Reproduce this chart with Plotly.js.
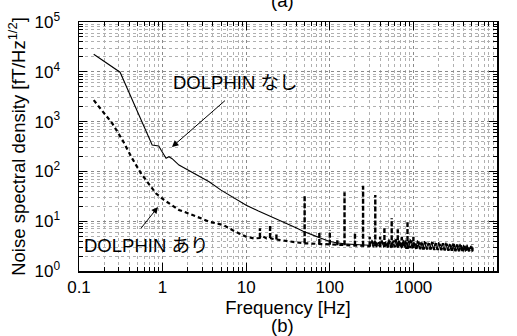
<!DOCTYPE html>
<html>
<head>
<meta charset="utf-8">
<script src="https://cdn.plot.ly/plotly-3.0.1.min.js"></script>
<style>html,body{margin:0;padding:0;background:#fff;}#chart{width:517px;height:336px;}</style>
</head>
<body>
<div id="chart"></div>
<script>
// Series "DOLPHIN なし" (solid)
const freqNashi = [0.15, 0.31, 0.75, 0.9, 0.97, 1.04, 1.1, 1.19, 1.3, 1.57, 1.8, 2.0, 2.27, 2.8, 3.6, 5.0, 7.0, 10, 14, 20, 25, 30, 40, 48, 55, 60, 70, 80, 100, 120, 150, 200, 250,
  300, 315, 330, 347, 364, 382, 401, 421, 442, 464, 487, 511, 537, 564, 592, 622, 653, 686, 720, 756, 794, 834, 876, 920, 966, 1014, 1065, 1118, 1174, 1233, 1295, 1360, 1428, 1499, 1574, 1653, 1736, 1823, 1914, 2010, 2110, 2216, 2327, 2443, 2565, 2693, 2828, 2969, 3118, 3274, 3438, 3610, 3790, 3980, 4179, 4388, 4607, 4837, 5100];
const valNashi = [22500, 9800, 339, 324, 260, 214, 183, 197, 180, 134, 118, 108, 98.6, 80, 62, 42, 30, 21, 16, 12.3, 10.6, 9.0, 7.3, 6.3, 5.7, 5.3, 4.9, 4.5, 3.9, 3.7, 3.5, 3.4, 3.3,
  3.3, 3.9, 3.0, 4.1, 3.0, 3.8, 3.1, 4.2, 2.95, 3.9, 3.0, 4.3, 2.9, 3.8, 3.0, 4.4, 2.9, 3.9, 2.85, 4.2, 2.9, 3.8, 2.8, 4.3, 2.8, 3.9, 2.75, 4.1, 2.8, 3.8, 2.7, 4.0, 2.75, 3.7, 2.7, 3.9, 2.7, 3.7, 2.65, 3.8, 2.65, 3.6, 2.6, 3.7, 2.6, 3.5, 2.55, 3.6, 2.55, 3.4, 2.5, 3.5, 2.5, 3.3, 2.45, 3.4, 2.45, 3.2, 2.45];

// Series "DOLPHIN あり" (dashed)
const freqAri = [0.15, 0.25, 0.33, 0.43, 0.55, 0.83, 1.04, 1.57, 2.12, 3.6, 5.3, 7.0, 10, 12.5, 14.6, 16, 17.5, 19.3, 21, 23, 25, 30, 40, 50, 60, 75, 90, 100, 123, 150, 180, 200, 250, 280, 300, 320, 350, 370, 400, 420, 450, 470, 500, 520, 550, 580, 600, 620, 650, 680, 700, 727, 750, 780, 800, 820, 850, 880, 920, 960, 1000,
  1030, 1090, 1150, 1210, 1265, 1330, 1390, 1460, 1540, 1610, 1690, 1780, 1870, 1960, 2060, 2160, 2270, 2380, 2500, 2630, 2760, 2900, 3040, 3190, 3350, 3520, 3700, 3880, 4080, 4280, 4500, 4720, 4950, 5100, 5100];
const valAri = [2700, 920, 430, 185, 92, 36.3, 26.7, 16.8, 14.0, 9.8, 8.4, 6.5, 4.9, 4.5, 4.6, 4.9, 4.5, 4.6, 4.4, 4.3, 4.1, 3.95, 3.75, 3.6, 3.55, 3.5, 3.4, 3.35, 3.3, 3.3, 3.25, 3.2, 3.2, 3.15, 3.15, 3.9, 3.1, 3.8, 3.1, 3.9, 3.05, 3.8, 3.0, 4.0, 3.0, 4.1, 3.0, 4.3, 3.0, 4.2, 2.95, 2.95, 4.0, 2.95, 4.2, 2.9, 2.9, 4.0, 2.9, 4.1, 2.9,
  3.6, 2.8, 3.9, 2.75, 3.7, 2.7, 3.8, 2.7, 3.6, 2.7, 3.8, 2.65, 3.6, 2.65, 3.5, 2.6, 3.6, 2.6, 3.5, 2.55, 3.4, 2.55, 3.5, 2.5, 3.4, 2.5, 3.3, 2.45, 3.3, 2.45, 3.2, 2.45, 3.1, 2.5, 3.5];

// Line-frequency spikes of "DOLPHIN あり": frequency, peak, base
const spikeFreq = [14.6, 19.3, 23, 50, 75, 100, 123, 150, 200, 250, 300, 350, 400, 450, 500, 550, 650, 727, 850, 1000];
const spikePeak = [7.2, 8.0, 5.8, 32, 5.8, 6.6, 4.6, 38, 5.8, 51.7, 4.9, 33.6, 4.9, 7.2, 4.2, 11.4, 6.9, 4.9, 9.5, 4.9];
const spikeBase = [4.6, 4.6, 4.3, 3.6, 3.5, 3.35, 3.3, 3.3, 3.2, 3.2, 3.15, 3.1, 3.1, 3.05, 3.0, 3.0, 3.0, 2.95, 2.9, 2.9];

// Axis tick labels
const xTickVals = [0.1, 1, 10, 100, 1000, 10000];
const xTickText = ["0.1", "1", "10", "100", "1000", "10000"];
const yTickVals = [1, 10, 100, 1000, 10000, 100000];
const yTickText = ["10<sup>0</sup>", "10<sup>1</sup>", "10<sup>2</sup>", "10<sup>3</sup>", "10<sup>4</sup>", "10<sup>5</sup>"];

const FONT = "Liberation Sans, Arial, Noto Sans CJK JP, sans-serif";

const spikeX = [], spikeY = [];
spikeFreq.forEach((f, i) => { spikeX.push(f, f, null); spikeY.push(spikeBase[i], spikePeak[i], null); });

const traces = [
  {x: freqNashi, y: valNashi, type: "scatter", mode: "lines", line: {color: "#000", width: 1.1}, hoverinfo: "skip"},
  {x: freqAri, y: valAri, type: "scatter", mode: "lines", line: {color: "#000", width: 2.2, dash: "4px,3px"}, hoverinfo: "skip"},
  {x: spikeX, y: spikeY, type: "scatter", mode: "lines", connectgaps: false, line: {color: "#000", width: 2.4, dash: "5px,2px"}, hoverinfo: "skip"}
];

const axisCommon = {
  type: "log", automargin: false,
  showline: true, linecolor: "#000", linewidth: 1.5, mirror: "allticks",
  ticks: "inside", ticklen: 8, tickwidth: 1, tickcolor: "#000",
  showgrid: true, gridcolor: "#8a8a8a", griddash: "dot", gridwidth: 1,
  minor: {ticks: "inside", ticklen: 4, tickcolor: "#000", showgrid: true, gridcolor: "#b0b0b0", griddash: "dot", dtick: "D1"},
  zeroline: false,
  tickfont: {family: FONT, size: 17, color: "#000"}
};

const layout = {
  width: 517, height: 336,
  margin: {l: 79, r: 20, t: 22, b: 65},
  paper_bgcolor: "#fff", plot_bgcolor: "#fff",
  showlegend: false,
  font: {family: FONT, color: "#000"},
  xaxis: Object.assign({}, axisCommon, {
    range: [-1, 4], tickvals: xTickVals, ticktext: xTickText,
    title: {text: "Frequency [Hz]", font: {family: FONT, size: 18.5, color: "#000"}, standoff: 1}
  }),
  yaxis: Object.assign({}, axisCommon, {
    range: [0, 5], tickvals: yTickVals, ticktext: yTickText, ticklabelstandoff: 14,
    title: {text: "Noise spectral density [fT/Hz<sup>1/2</sup>]", font: {family: FONT, size: 18.5, color: "#000"}, standoff: 4}
  }),
  annotations: [
    {xref: "paper", yref: "paper", x: 0.486, y: 1.088, text: "(a)", showarrow: false, font: {family: FONT, size: 18.5}, xanchor: "center", yanchor: "middle"},
    {xref: "paper", yref: "paper", x: 0.486, y: -0.217, text: "(b)", showarrow: false, font: {family: FONT, size: 18.5}, xanchor: "center", yanchor: "middle"},
    {xref: "paper", yref: "paper", x: 0.374, y: 0.759, text: "DOLPHIN なし", showarrow: false, font: {family: FONT, size: 18.5}, xanchor: "center", yanchor: "middle"},
    {xref: "paper", yref: "paper", x: 0.160, y: 0.104, text: "DOLPHIN あり", showarrow: false, font: {family: FONT, size: 18.5}, xanchor: "center", yanchor: "middle"},
    {xref: "x", yref: "y", x: 0.112, y: 2.49, text: " ", showarrow: true, ax: 56, ay: -49, arrowhead: 2, arrowsize: 1.3, arrowwidth: 1, arrowcolor: "#000", standoff: 0},
    {xref: "x", yref: "y", x: -0.055, y: 1.285, text: " ", showarrow: true, ax: -20, ay: 25, arrowhead: 2, arrowsize: 1.3, arrowwidth: 1, arrowcolor: "#000", standoff: 0}
  ]
};

Plotly.newPlot("chart", traces, layout, {staticPlot: true, displayModeBar: false});
</script>
</body>
</html>
